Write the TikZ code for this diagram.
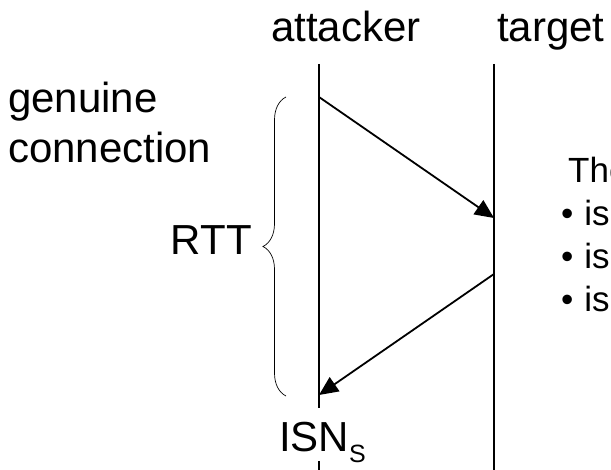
\documentclass[tikz,border=0pt]{standalone}
\usepackage{fontspec}
\setmainfont{Liberation Sans}
\usetikzlibrary{arrows.meta,decorations.pathreplacing}

\begin{document}
\begin{tikzpicture}[x=1pt,y=-1pt,
    lbl/.style={inner sep=0pt, font=\fontsize{42}{50}\selectfont},
    note/.style={inner sep=0pt, font=\fontsize{35}{43}\selectfont},
    life/.style={line width=2pt},
    msg/.style={line width=1.8pt, -{Triangle[length=19pt,width=17pt]}}]
        \useasboundingbox (0,0) rectangle (611,470);
        \node [lbl, anchor=base west] (attacker) at (271,42) {attacker};
        \node [lbl, anchor=base west] (target) at (497,42) {target};
        \coordinate (A0) at (319,64); \coordinate (A1) at (319,408);
        \coordinate (A2) at (319,461); \coordinate (A3) at (319,472);
        \coordinate (T0) at (494,64); \coordinate (T1) at (494,472);
        \draw [life] (A0) -- (A1);
        \draw [life] (A2) -- (A3); % below ISN
        \draw [life] (T0) -- (T1);
        \coordinate (SYN) at (319,97); \coordinate (SYNin) at (494,218);
        \coordinate (ACK) at (494,274); \coordinate (ACKin) at (319,395);
        \draw [msg] (SYN) -- (SYNin);
        \draw [msg] (ACK) -- (ACKin);
        \draw [decorate, decoration={brace, amplitude=23pt}, line width=0.7pt] (286,396) -- (286,97);
        \node [lbl, anchor=base west] (gen) at (8,113) {genuine};
        \node [lbl, anchor=base west] (conn) at (8,163) {connection};
        \node [lbl, anchor=base east] (rtt) at (252,255) {RTT};
        \node [lbl, anchor=base west] (isn) at (279,452) {ISN\raisebox{-11pt}{\fontsize{25}{25}\selectfont S}};
        \node [note, anchor=base west] (the) at (568,183) {The};
        \foreach \y/\n in {226/b1, 269/b2, 312/b3}
            \node [note, anchor=base west] (\n) at (561,\y) {\textbullet\hspace{11pt}is};
    \end{tikzpicture}
\end{document}
